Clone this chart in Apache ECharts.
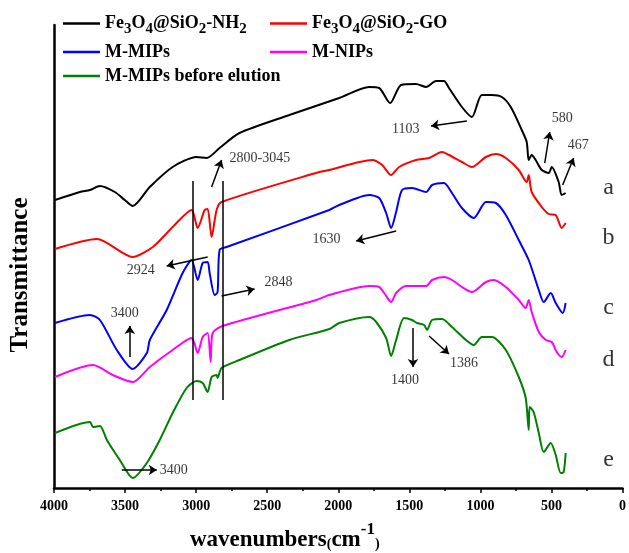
<!DOCTYPE html>
<html>
<head>
<meta charset="utf-8">
<script src="https://cdn.jsdelivr.net/npm/echarts@6/dist/echarts.min.js"></script>
<style>
  html, body { margin: 0; padding: 0; background: #fff; }
  #main { width: 629px; height: 553px; }
</style>
</head>
<body>
<div id="main"></div>
<script>
// [wavenumber, transmittance (arbitrary, offset)]
var curveNH2 = [
  [3993,288],[3818,296],[3747,298],[3677,302],[3572,296],[3502,288],[3446,282],[3326,301],
  [3165,321],[2997,331],[2926,330],[2835,340],[2695,355],[2344,373],[1993,390],[1782,401],
  [1712,400],[1635,385],[1558,403],[1453,404],[1382,401],[1312,407],[1256,407],[1221,400],
  [1130,381],[1060,371],[990,393],[919,393],[849,391],[786,381],[709,358],[674,346],
  [660,328],[639,333],[611,328],[568,318],[519,315],[498,321],[449,306],[428,293],[400,295]
];
var curveGO = [
  [3993,239],[3698,249],[3446,231],[3305,241],[3165,261],[3032,278],[2989,260],[2940,278],
  [2919,279],[2891,251],[2856,278],[2821,286],[2133,316],[2063,318],[1761,328],[1691,323],
  [1628,313],[1572,321],[1453,328],[1361,330],[1270,336],[1221,333],[1130,326],[1060,321],
  [961,331],[891,334],[821,330],[730,318],[674,306],[660,313],[639,296],[568,281],
  [519,274],[470,273],[428,260],[400,265]
];
var curveMIP = [
  [3993,165],[3747,173],[3677,168],[3558,138],[3446,119],[3347,135],[3326,148],[3207,178],
  [3095,215],[3032,228],[2989,208],[2954,225],[2919,226],[2905,215],[2870,193],[2849,196],
  [2835,238],[2786,241],[2063,278],[1993,283],[1782,293],[1712,290],[1663,275],[1628,260],
  [1593,276],[1551,298],[1481,300],[1382,296],[1340,303],[1256,305],[1200,295],[1130,280],
  [1046,270],[961,286],[891,285],[821,273],[730,248],[660,228],[589,198],[554,186],
  [505,195],[470,185],[420,175],[400,185]
];
var curveNIP = [
  [3993,111],[3726,123],[3586,113],[3446,106],[3326,121],[3165,138],[3032,150],[2989,135],
  [2954,151],[2919,155],[2898,126],[2884,155],[2814,162],[2154,188],[2063,193],[1782,202],
  [1712,201],[1677,195],[1628,186],[1593,195],[1523,202],[1382,202],[1340,208],[1256,211],
  [1200,208],[1130,201],[1060,196],[961,206],[905,208],[821,201],[730,188],[681,180],
  [660,188],[639,176],[589,156],[540,148],[498,146],[463,136],[428,131],[400,138]
];
var curveBefore = [
  [3993,55],[3747,66],[3726,61],[3677,62],[3628,48],[3537,28],[3446,10],[3347,25],
  [3256,48],[3165,75],[3067,100],[2997,107],[2954,105],[2919,96],[2891,111],[2856,113],
  [2849,110],[2821,120],[2695,128],[2344,148],[2063,159],[1993,165],[1782,171],[1733,166],
  [1663,150],[1628,132],[1593,148],[1537,170],[1481,168],[1446,165],[1396,163],[1375,158],
  [1340,168],[1270,169],[1200,161],[1102,148],[1046,143],[990,151],[919,151],[821,138],
  [730,111],[681,90],[660,58],[653,81],[625,76],[589,55],[554,36],[505,45],
  [470,33],[435,15],[414,16],[400,35]
];

var seriesNames = ['Fe3O4@SiO2-NH2', 'Fe3O4@SiO2-GO', 'M-MIPs', 'M-NIPs', 'M-MIPs before elution'];
var seriesColors = ['#000000', '#ff0000', '#0000ff', '#ff00ff', '#008000'];
var seriesData = [curveNH2, curveGO, curveMIP, curveNIP, curveBefore];

// peak labels: [wavenumber, value, text, align]
var peakLabels = [
  [2765, 330, '2800-3045', 'left'],
  [3488, 218, '2924', 'left'],
  [2519, 206, '2848', 'left'],
  [3502, 175, '3400', 'center'],
  [3256, 18, '3400', 'left'],
  [2182, 249, '1630', 'left'],
  [1621, 359, '1103', 'left'],
  [498, 370, '580', 'left'],
  [386, 343, '467', 'left'],
  [1530, 108, '1400', 'center'],
  [1214, 125, '1386', 'left']
];
var curveLetters = [[98, 300, 'a'], [98, 250, 'b'], [98, 180, 'c'], [98, 128, 'd'], [98, 28, 'e']];
// arrows: from -> to
var arrows = [
  [[2891, 301], [2821, 328]],
  [[2919, 231], [3207, 222]],
  [[2821, 192], [2589, 199]],
  [[3467, 131], [3467, 162]],
  [[3523, 18], [3277, 18]],
  [[1593, 257], [1874, 247]],
  [[1095, 367], [1347, 362]],
  [[547, 325], [512, 356]],
  [[421, 303], [344, 330]],
  [[1474, 160], [1474, 121]],
  [[1361, 152], [1221, 134]]
];
var bandLines = [3025, 2815];
var bandTop = 307, bandBottom = 88;

var serif = '"Liberation Serif", "Times New Roman", serif';

function legendText(name) {
  return '{b|' + name.replace(/(\d)/g, '}{s|$1}{b|') + '}';
}

var chart = echarts.init(document.getElementById('main'));

var series = [];
for (var i = 0; i < seriesNames.length; i++) {
  series.push({
    name: seriesNames[i],
    type: 'line',
    data: seriesData[i],
    symbol: 'none',
    smooth: 0.25,
    color: seriesColors[i],
    lineStyle: { width: 2, color: seriesColors[i] },
    silent: true
  });
}

var labelData = [];
peakLabels.forEach(function (p) {
  labelData.push({ value: [p[0], p[1]], name: p[2],
    label: { align: p[3], fontSize: 14 } });
});
curveLetters.forEach(function (p) {
  labelData.push({ value: [p[0], p[1]], name: p[2],
    label: { align: 'center', fontSize: 24 } });
});

var markData = [];
arrows.forEach(function (a) {
  markData.push([{ coord: a[0], symbol: 'none' }, { coord: a[1], symbol: 'arrow', symbolSize: 8 }]);
});
bandLines.forEach(function (w) {
  markData.push([{ coord: [w, bandTop], symbol: 'none' }, { coord: [w, bandBottom], symbol: 'none' }]);
});

series.push({
  name: 'notes',
  type: 'scatter',
  symbolSize: 0,
  data: labelData,
  silent: true,
  label: {
    show: true,
    position: [0, 0],
    verticalAlign: 'middle',
    color: '#000',
    fontFamily: serif,
    formatter: function (p) { return p.name; }
  },
  markLine: {
    silent: true,
    animation: false,
    label: { show: false },
    lineStyle: { color: '#000', width: 1.5, type: 'solid' },
    data: markData
  }
});

var legendBase = {
  padding: 0,
  icon: 'rect',
  itemWidth: 37,
  itemHeight: 2.5,
  selectedMode: false,
  formatter: legendText,
  textStyle: {
    color: '#000',
    rich: {
      b: { fontFamily: serif, fontWeight: 'bold', fontSize: 18, lineHeight: 20, verticalAlign: 'middle' },
      s: { fontFamily: serif, fontWeight: 'bold', fontSize: 15, lineHeight: 14, padding: [12, 0, 0, 0], verticalAlign: 'middle' }
    }
  }
};
var legendPos = [[63, 10], [270, 10], [63, 43], [270, 43], [63, 67]];
var legends = seriesNames.map(function (n, k) {
  return Object.assign({}, legendBase, { data: [n], left: legendPos[k][0], top: legendPos[k][1] });
});

var option = {
  animation: false,
  backgroundColor: '#fff',
  legend: legends,
  grid: { left: 54, right: 5, top: 25, bottom: 65 },
  xAxis: {
    type: 'value',
    inverse: true,
    min: 0,
    max: 4000,
    interval: 500,
    axisLine: { lineStyle: { color: '#000', width: 2.5 } },
    axisTick: { show: true, inside: false, length: 5, lineStyle: { color: '#000', width: 1.5 } },
    minorTick: { show: true, splitNumber: 2, length: 3, lineStyle: { color: '#000', width: 1.5 } },
    splitLine: { show: false },
    axisLabel: {
      color: '#000', fontFamily: serif, fontWeight: 'bold', fontSize: 14, margin: 11,
      formatter: function (v) { return String(v); }
    }
  },
  yAxis: {
    type: 'value',
    position: 'left',
    min: 0,
    max: 463,
    axisLine: { show: true, onZero: false, lineStyle: { color: '#000', width: 2.5 } },
    axisTick: { show: false },
    axisLabel: { show: false },
    splitLine: { show: false }
  },
  graphic: [
    {
      type: 'text',
      x: 21, y: 275,
      rotation: Math.PI / 2,
      style: {
        text: 'Transmittance',
        font: 'bold 25px ' + serif,
        fill: '#000',
        textAlign: 'center',
        textVerticalAlign: 'middle'
      }
    },
    {
      type: 'text',
      x: 190, y: 540,
      style: {
        text: '{w|wavenumbers}{p|(}{w|cm}{u|-1}{p|)}',
        fill: '#000',
        textAlign: 'left',
        textVerticalAlign: 'middle',
        rich: {
          w: { fontFamily: serif, fontWeight: 'bold', fontSize: 23, verticalAlign: 'middle' },
          p: { fontFamily: serif, fontWeight: 'bold', fontSize: 14, padding: [8, 0, 0, 0], verticalAlign: 'middle' },
          u: { fontFamily: serif, fontWeight: 'bold', fontSize: 17, padding: [0, 0, 20, 0], verticalAlign: 'middle' }
        }
      }
    }
  ],
  series: series
};

chart.setOption(option);
</script>
</body>
</html>
